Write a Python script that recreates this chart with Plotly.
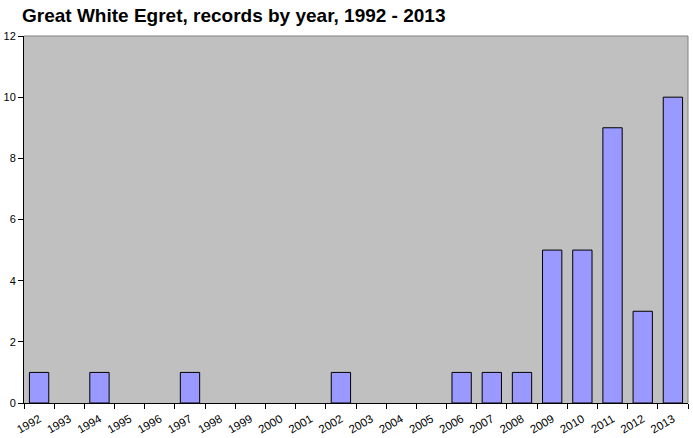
import plotly.graph_objects as go

years = [str(y) for y in range(1992, 2014)]
records = [1, 0, 1, 0, 0, 1, 0, 0, 0, 0, 1, 0, 0, 0, 1, 1, 1, 5, 5, 9, 3, 10]
y_ticks = [0, 2, 4, 6, 8, 10, 12]
title_text = "Great White Egret, records by year, 1992 - 2013"

# zero-count years draw no bar (avoid outline on zero-height bars)
bar_values = [v if v > 0 else None for v in records]

fig = go.Figure()
fig.add_trace(go.Bar(
    x=years, y=bar_values,
    marker=dict(color="#9999FF", line=dict(color="black", width=1)),
))

fig.update_layout(
    width=693, height=438,
    margin=dict(l=24, r=5, t=36, b=35, autoexpand=False),
    paper_bgcolor="white",
    plot_bgcolor="#C0C0C0",
    bargap=0.36,
    showlegend=False,
    font=dict(family="Liberation Sans, Arial", size=11, color="black"),
    title=dict(text="<b>" + title_text + "</b>", x=22 / 693, xanchor="left",
               xref="container", pad=dict(l=0, r=0, t=0, b=0),
               y=1 - 15 / 438, yanchor="middle",
               font=dict(family="Liberation Sans, Arial", size=19, color="black")),
)
fig.update_xaxes(
    type="category", range=[-0.5, len(years) - 0.5], tickangle=-30,
    tickson="boundaries", automargin=False, ticklabelstandoff=4,
    ticks="outside", ticklen=5, tickcolor="black",
    showline=True, linecolor="black", linewidth=1,
    showgrid=False, tickfont=dict(size=11.5),
)
fig.update_yaxes(
    range=[0, 12], tickvals=y_ticks, automargin=False,
    ticks="outside", ticklen=5, tickcolor="black",
    showline=True, linecolor="black", linewidth=1,
    showgrid=False, zeroline=False, tickfont=dict(size=11),
)
fig.add_shape(type="path", xref="paper", yref="paper",
              path="M 0,1 L 1,1 L 1,0", line=dict(color="#808080", width=1),
              layer="above")

fig.write_html("out.html", config={"displayModeBar": False},
               post_script="document.body.style.margin='0';document.body.style.overflow='hidden';")
